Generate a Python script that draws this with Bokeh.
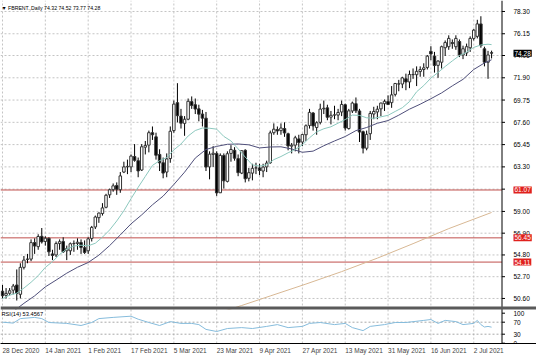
from bokeh.plotting import figure
from bokeh.models import Range1d, FixedTicker, Label, ColumnDataSource
from bokeh.embed import file_html
from bokeh.resources import INLINE
from bokeh.core.properties import value

FONT = "Liberation Sans"

# ---- daily OHLC (bar index 0 = 28 Dec 2020) ----
opens = [51.30, 50.90, 51.10, 51.40, 51.90, 51.00, 53.60, 54.40, 54.40, 56.00,
         55.60, 56.60, 56.10, 56.40, 54.90, 54.80, 55.90, 56.10, 55.20, 55.20,
         55.90, 55.90, 56.00, 55.50, 55.20, 56.40, 57.50, 58.40, 58.80, 59.40,
         60.60, 61.10, 61.50, 61.10, 62.80, 63.30, 63.30, 64.30, 63.90, 63.00,
         65.20, 65.40, 66.60, 66.20, 64.50, 63.70, 62.80, 64.10, 66.80, 69.50,
         68.20, 67.50, 67.90, 69.60, 69.30, 68.90, 68.40, 68.00, 63.30, 64.50,
         64.60, 60.80, 64.40, 61.90, 64.60, 64.90, 64.10, 62.70, 64.90, 62.20,
         62.70, 63.20, 63.20, 62.90, 63.30, 63.70, 66.60, 66.90, 66.80, 67.00,
         66.50, 65.30, 65.40, 66.00, 65.70, 66.40, 67.30, 68.50, 67.10, 67.60,
         68.90, 69.00, 68.10, 68.30, 68.30, 68.60, 69.30, 67.00, 68.70, 69.40,
         68.70, 66.70, 65.10, 66.50, 68.40, 68.60, 68.90, 69.40, 69.60, 69.50,
         70.30, 71.30, 71.30, 71.80, 71.50, 72.20, 72.20, 72.50, 72.70, 72.90,
         74.45, 74.00, 73.10, 73.40, 74.80, 74.90, 75.30, 74.90, 75.40, 74.10,
         74.30, 74.80, 75.70, 75.90, 77.10, 74.70, 73.40, 74.32]
highs = [51.90, 51.60, 51.60, 52.00, 53.40, 54.00, 54.70, 54.90, 56.30, 56.40,
         56.80, 57.40, 56.60, 56.50, 55.30, 56.10, 56.30, 56.50, 55.70, 56.00,
         56.20, 56.40, 56.30, 56.20, 56.50, 57.60, 58.60, 58.90, 59.80, 60.70,
         61.20, 61.70, 61.80, 62.80, 63.80, 64.00, 64.50, 65.50, 64.20, 65.50,
         65.80, 66.80, 67.20, 66.60, 65.00, 64.20, 64.60, 67.20, 69.70, 71.38,
         68.90, 68.20, 69.90, 70.10, 69.90, 69.30, 68.80, 68.60, 64.80, 65.30,
         64.80, 64.60, 64.60, 64.80, 65.40, 65.20, 64.50, 64.90, 65.00, 63.20,
         63.60, 63.70, 63.60, 63.60, 63.90, 66.80, 67.50, 67.20, 67.50, 67.60,
         66.60, 65.60, 66.30, 66.40, 66.50, 67.40, 68.90, 68.60, 67.70, 69.40,
         69.70, 69.30, 68.70, 69.20, 68.90, 69.70, 69.40, 68.90, 69.60, 70.00,
         68.90, 66.80, 66.80, 68.70, 69.10, 69.20, 69.50, 69.80, 70.20, 71.10,
         71.40, 71.70, 72.00, 72.30, 72.60, 72.80, 73.00, 73.00, 73.30, 74.10,
         74.95, 74.40, 73.60, 75.00, 75.50, 76.00, 75.60, 76.00, 75.60, 75.00,
         75.20, 75.90, 76.60, 77.50, 77.84, 74.90, 74.50, 74.52]
lows = [50.60, 50.60, 50.90, 51.00, 50.40, 50.60, 53.40, 54.00, 54.20, 54.90,
        55.30, 55.90, 55.70, 54.70, 54.30, 54.60, 55.30, 55.00, 54.30, 54.80,
        55.10, 55.30, 54.90, 54.90, 54.90, 56.10, 57.30, 57.90, 58.60, 59.30,
        60.30, 60.90, 60.60, 60.80, 62.70, 62.60, 62.80, 63.80, 62.30, 62.90,
        64.50, 64.70, 65.90, 64.00, 62.90, 62.20, 62.30, 63.70, 66.60, 67.60,
        67.00, 66.30, 67.80, 68.90, 68.40, 67.70, 67.20, 62.90, 62.10, 63.30,
        60.50, 60.80, 61.20, 61.80, 63.80, 63.90, 62.40, 62.60, 61.80, 61.90,
        62.00, 62.60, 62.50, 62.30, 62.80, 63.60, 66.40, 66.40, 66.40, 66.20,
        64.90, 64.60, 64.80, 64.60, 65.30, 65.80, 67.00, 66.80, 66.40, 67.40,
        68.40, 67.80, 67.40, 67.90, 67.80, 68.20, 66.80, 66.90, 68.50, 68.50,
        65.70, 64.60, 64.90, 65.90, 67.90, 67.90, 68.20, 68.70, 69.30, 69.00,
        70.10, 70.60, 70.90, 70.70, 70.90, 71.80, 71.10, 72.00, 72.00, 72.70,
        73.60, 72.40, 71.90, 72.80, 74.00, 74.60, 74.70, 74.60, 73.90, 73.70,
        74.00, 74.40, 75.50, 75.70, 74.80, 73.00, 71.80, 73.77]
closes = [50.86, 51.09, 51.34, 51.80, 51.09, 53.60, 54.30, 54.38, 55.99, 55.66,
          56.58, 56.06, 56.42, 55.10, 54.75, 55.90, 56.08, 55.10, 55.41, 55.88,
          55.91, 56.03, 55.53, 55.04, 56.35, 57.46, 58.46, 58.84, 59.34, 60.56,
          61.09, 61.47, 61.14, 62.43, 63.30, 63.35, 64.34, 63.93, 62.91, 65.24,
          65.37, 66.60, 66.40, 64.42, 63.69, 62.70, 64.07, 66.74, 69.36, 68.24,
          67.52, 67.90, 69.63, 69.22, 68.88, 68.39, 68.00, 63.28, 64.53, 64.62,
          60.79, 64.41, 61.95, 64.57, 64.98, 64.14, 62.74, 64.86, 62.15, 62.74,
          63.16, 63.20, 62.95, 63.28, 63.67, 66.58, 66.94, 66.77, 67.05, 66.57,
          65.32, 65.40, 66.11, 65.65, 66.42, 67.27, 68.56, 67.25, 67.56, 68.88,
          68.96, 68.09, 68.28, 68.32, 68.55, 69.32, 67.05, 68.71, 69.46, 68.71,
          66.66, 65.11, 66.44, 68.46, 68.65, 68.87, 69.46, 69.63, 69.32, 70.25,
          71.35, 71.31, 71.89, 71.49, 72.22, 72.22, 72.52, 72.69, 72.86, 73.99,
          74.20, 73.08, 73.51, 74.90, 75.30, 75.70, 75.20, 75.70, 74.10, 74.70,
          74.90, 75.70, 76.50, 77.10, 75.00, 73.40, 74.10, 74.28]

# ---- moving averages ----
ma_fast_bars = [0, 2, 4, 6, 8, 10, 12, 14, 16, 18, 20, 22, 24, 26, 28, 30, 32, 34, 36, 38,
                40, 42, 44, 46, 48, 50, 52, 54, 56, 58, 60, 62, 64, 66, 68, 70, 72, 74, 76, 78,
                80, 82, 84, 86, 88, 90, 92, 94, 96, 98, 100, 102, 104, 106, 108, 110, 112, 114,
                116, 118, 120, 122, 124, 126, 128, 130, 132, 134, 136, 137]
ma_fast_vals = [50.58, 50.92, 51.11, 51.60, 52.16, 52.80, 53.60, 54.15, 54.84, 55.38,
                55.66, 55.74, 55.68, 55.93, 56.52, 57.21, 58.08, 59.07, 60.23, 61.33,
                62.38, 63.44, 63.90, 64.20, 64.94, 65.51, 66.28, 66.81, 67.05, 67.03,
                66.94, 66.24, 65.80, 65.04, 64.24, 63.49, 63.38, 63.49, 64.00, 64.30,
                64.66, 64.98, 65.42, 66.11, 66.68, 66.98, 67.17, 67.52, 67.87, 68.30,
                68.27, 68.04, 67.99, 68.13, 68.28, 68.65, 69.01, 69.60, 70.55, 71.15,
                71.87, 72.41, 72.99, 73.53, 74.04, 74.37, 74.83, 75.07, 75.14, 75.10]
ma_slow_bars = [0, 3, 6, 9, 12, 15, 18, 21, 24, 27, 30, 33, 36, 39, 42, 45, 48, 51, 54, 57,
                60, 63, 66, 69, 72, 75, 78, 81, 84, 87, 90, 93, 96, 99, 102, 105, 108, 111,
                114, 117, 120, 123, 126, 129, 132, 135, 137]
ma_slow_vals = [48.59, 49.34, 50.13, 50.85, 51.72, 52.37, 53.04, 53.61, 54.07, 54.78,
                55.70, 56.73, 57.80, 58.67, 59.64, 60.48, 61.60, 62.79, 64.15, 64.98,
                65.28, 65.48, 65.51, 65.43, 65.13, 65.22, 65.24, 65.03, 64.71, 64.82,
                65.34, 65.80, 66.23, 66.80, 67.10, 67.51, 67.77, 68.29, 68.87, 69.35,
                69.88, 70.44, 71.12, 71.75, 72.70, 73.33, 73.64]
ma_long_bars = [60, 67, 75, 85, 95, 105, 115, 125, 137]
ma_long_vals = [49.15, 49.92, 50.84, 51.99, 53.19, 54.49, 55.89, 57.34, 58.90]

# ---- RSI(14) ----
rsi_bars = [0, 3, 5, 9, 11, 13, 18, 22, 25, 27, 31, 36, 38, 41, 44, 47, 50, 53, 55, 57,
            60, 63, 67, 70, 74, 77, 80, 84, 86, 89, 93, 96, 98, 101, 103, 107, 110, 113,
            118, 120, 122, 124, 127, 129, 132, 133, 134, 135, 136, 137]
rsi_vals = [70, 67, 82, 86, 82, 69, 66, 59, 69, 82, 86, 90, 80, 69, 59, 72, 66, 66, 62, 46,
            39, 49, 52, 49, 56, 62, 52, 56, 66, 69, 62, 66, 52, 42, 56, 62, 69, 69,
            76, 79, 66, 76, 72, 62, 66, 76, 62, 54, 56, 53.46]

date_tick_bars = [0, 12, 24, 36, 48, 60, 72, 84, 96, 108, 120, 132]
date_tick_labels = ["28 Dec 2020", "14 Jan 2021", "1 Feb 2021", "17 Feb 2021", "5 Mar 2021",
                    "23 Mar 2021", "9 Apr 2021", "27 Apr 2021", "13 May 2021", "31 May 2021",
                    "16 Jun 2021", "2 Jul 2021"]
price_ticks = [50.60, 52.70, 54.80, 56.90, 59.00, 61.15, 63.30, 65.45, 67.60, 69.75, 71.90,
               74.05, 76.15, 78.30]
level_prices = [61.07, 56.45, 54.11]
last_price = 74.28
rsi_ticks = [0, 30, 70, 100]
rsi_levels = [30, 70]

# ---- pixel geometry of the MT4 window ----
W, H, BOTTOM = 536, 357, 14          # canvas, bottom strip for the date labels
FRAME_H = H - BOTTOM                 # 343
PX_PER_BAR = 3.57
X0 = -0.56
PX_PER_PRICE = 10.36
P_TOP = 79.36
PX_PER_RSI = 0.30
RSI_100_PX = 312.7
SCALE_PX = 501.5
SPLIT_PX = 307.5
RSI_TOP_PX = 309
DATE_FONT_PX = 6.5


def bar_at(px):
    return X0 + px / PX_PER_BAR


def price_at(py):
    return P_TOP - py / PX_PER_PRICE


def rsi_at(py):
    return 100 - (py - RSI_100_PX) / PX_PER_RSI


X_END = bar_at(W)
X_SCALE = bar_at(SCALE_PX)
X_TICK_END = bar_at(SCALE_PX + 3)
X_LABEL = bar_at(513)
P_BOT = price_at(FRAME_H)
P_SPLIT = price_at(SPLIT_PX)
P_RSI_TOP = price_at(RSI_TOP_PX)
R_TOP, R_BOT = rsi_at(RSI_TOP_PX), rsi_at(FRAME_H)

_W = {" ": .278, "D": .722, "e": .556, "c": .5, "J": .5, "a": .556, "n": .556, "F": .611,
      "b": .556, "M": .833, "r": .333, "A": .667, "p": .556, "y": .5, "u": .556, "l": .222}


def text_px(s, size):
    return sum(_W.get(ch, .556) for ch in s) * size


# MT4 puts each date label to the right of its bar: shift label anchors by half their width
label_anchor = [round(b + text_px(s, DATE_FONT_PX) / 2 / PX_PER_BAR, 3)
                for b, s in zip(date_tick_bars, date_tick_labels)]

p = figure(width=W, height=H, x_range=Range1d(X0, X_END), y_range=Range1d(P_BOT, P_TOP),
           output_backend="svg", toolbar_location=None, x_axis_location="below",
           y_axis_location=None, min_border_left=0, min_border_right=0,
           min_border_top=0, min_border_bottom=BOTTOM)
p.extra_y_ranges = {"rsi": Range1d(rsi_at(FRAME_H), rsi_at(0))}
p.outline_line_color = None
p.xgrid.visible = False
p.ygrid.visible = False

nt, nd = len(price_ticks), len(date_tick_bars)

# ---------------- main price panel ----------------
p.segment(x0=[X0] * nt, y0=price_ticks, x1=[X_SCALE] * nt, y1=price_ticks,
          line_color="#c4c4c4", line_dash="2 2", line_width=1)
p.segment(x0=date_tick_bars, y0=[P_RSI_TOP] * nd, x1=date_tick_bars, y1=[P_TOP] * nd,
          line_color="#c4c4c4", line_dash="2 2", line_width=1)
p.segment(x0=[X0] * len(level_prices), y0=level_prices, x1=[X_SCALE] * len(level_prices),
          y1=level_prices, line_color="#c0504d", line_width=1)

p.line(ma_long_bars, ma_long_vals, line_color="#d8b894", line_width=1)

src = ColumnDataSource(dict(
    x=list(range(len(closes))), h=highs, l=lows,
    top=[max(o, c) for o, c in zip(opens, closes)],
    bottom=[min(o, c) for o, c in zip(opens, closes)],
    fill=["#ffffff" if c >= o else "#000000" for o, c in zip(opens, closes)],
))
p.segment(x0="x", y0="l", x1="x", y1="h", line_color="#000000", line_width=1, source=src)
p.vbar(x="x", width=0.7, top="top", bottom="bottom", fill_color="fill",
       line_color="#333333", line_width=1, source=src)

p.line(ma_slow_bars, ma_slow_vals, line_color="#4f4f7a", line_width=1)
p.line(ma_fast_bars, ma_fast_vals, line_color="#8cc8be", line_width=1)

p.add_layout(Label(x=X0 + 0.26, y=price_at(7.5),
                   text="\u25bc FBRENT.,Daily  74.32 74.52 73.77 74.28",
                   text_font=FONT, text_font_size="5.2px", text_color="#000000",
                   text_baseline="middle", text_align="left"))

# ---------------- RSI sub-window ----------------
p.quad(left=[X0], right=[X_SCALE], bottom=[P_BOT], top=[P_RSI_TOP],
       fill_color="#ffffff", line_color=None)
p.segment(x0=date_tick_bars, y0=[R_BOT] * nd, x1=date_tick_bars, y1=[R_TOP] * nd,
          line_color="#c4c4c4", line_dash="2 2", line_width=1, y_range_name="rsi")
p.segment(x0=[X0] * len(rsi_levels), y0=rsi_levels, x1=[X_SCALE] * len(rsi_levels),
          y1=rsi_levels, line_color="#a8a8a8", line_dash="2 2", line_width=1,
          y_range_name="rsi")
p.line(rsi_bars, rsi_vals, line_color="#86bcdc", line_width=1, y_range_name="rsi")
p.add_layout(Label(x=X0 + 0.26, y=rsi_at(313.5), y_range_name="rsi", text="RSI(14) 53.4567",
                   text_font=FONT, text_font_size="5.7px", text_color="#000000",
                   text_baseline="middle", text_align="left"))

# ---------------- price scales ----------------
p.quad(left=[X_SCALE], right=[X_END + 1], bottom=[P_BOT], top=[P_TOP],
       fill_color="#ffffff", line_color=None)
p.segment(x0=[X_SCALE], y0=[P_BOT], x1=[X_SCALE], y1=[P_TOP], line_color="#000000",
          line_width=1)
p.segment(x0=[X_SCALE] * nt, y0=price_ticks, x1=[X_TICK_END] * nt, y1=price_ticks,
          line_color="#000000", line_width=1)
p.text(x=[X_LABEL] * nt, y=price_ticks, text=[f"{t:.2f}" for t in price_ticks],
       text_font=value(FONT), text_font_size="6.5px", text_color="#000000",
       text_baseline="middle", text_align="left")
nr = len(rsi_ticks)
p.segment(x0=[X_SCALE] * nr, y0=rsi_ticks, x1=[X_TICK_END] * nr, y1=rsi_ticks,
          line_color="#000000", line_width=1, y_range_name="rsi")
p.text(x=[X_LABEL] * nr, y=rsi_ticks, text=[str(t) for t in rsi_ticks],
       text_font=value(FONT), text_font_size="6.5px", text_color="#000000",
       text_baseline="middle", text_align="left", y_range_name="rsi")

for lv in level_prices:
    p.add_layout(Label(x=X_LABEL, y=lv, text=f"{lv:.2f}", text_color="#ffffff", text_font=FONT,
                       text_font_size="6.5px", text_baseline="middle", text_align="left",
                       background_fill_color="#e0211d", padding=1))
p.add_layout(Label(x=X_LABEL, y=last_price, text=f"{last_price:.2f}", text_color="#ffffff",
                   text_font=FONT, text_font_size="6.5px", text_baseline="middle",
                   text_align="left", background_fill_color="#000000", padding=1))

# splitter between the two windows
p.segment(x0=[X0], y0=[P_SPLIT], x1=[X_END], y1=[P_SPLIT], line_color="#5a5a5a", line_width=3)

# ---------------- date axis ----------------
xa = p.xaxis[0]
xa.ticker = FixedTicker(ticks=label_anchor)
xa.major_label_overrides = {a: s for a, s in zip(label_anchor, date_tick_labels)}
xa.major_label_text_font = FONT
xa.major_label_text_font_size = f"{DATE_FONT_PX}px"
xa.major_label_standoff = 3
xa.major_tick_in = 0
xa.major_tick_out = 0
xa.minor_tick_in = 0
xa.minor_tick_out = 0
xa.axis_line_color = "#000000"

open("out.html", "w").write(file_html(p, INLINE))
